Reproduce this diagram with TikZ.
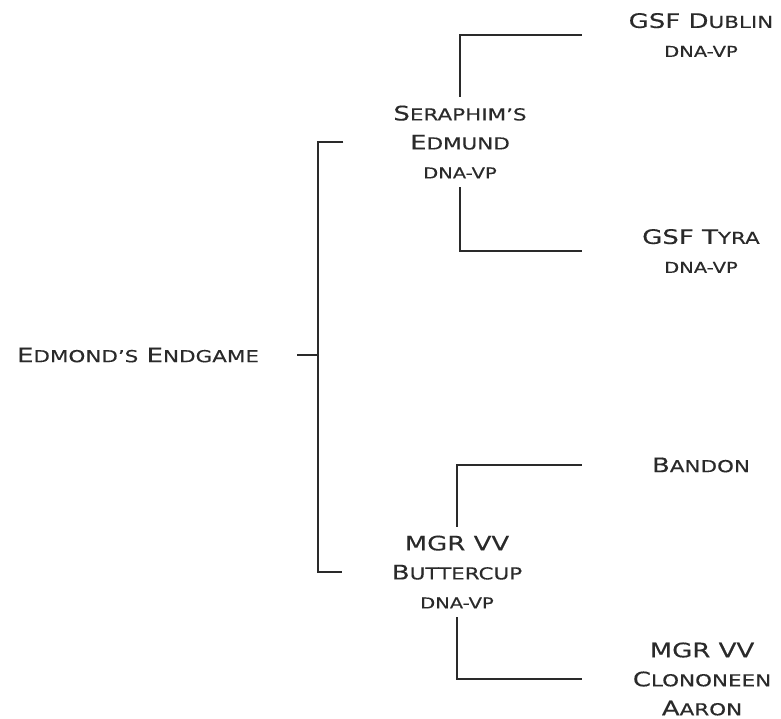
\documentclass[tikz,border=0pt]{standalone}
\usepackage{fontspec}
\setmainfont[FakeStretch=1.3, FakeBold=0.3]{DejaVu Sans}
\newcommand{\sm}[1]{{\fontsize{16.5}{29}\selectfont #1}}
\newcommand{\dna}{{\fontsize{15}{29}\selectfont DNA-VP}}
\definecolor{ink}{HTML}{2A2A2A}

\begin{document}
\begin{tikzpicture}[x=1pt, y=-1pt,
    dog/.style = {align=center, text=ink, inner sep=0pt, outer ysep=9pt,
                  font=\fontsize{20}{29}\selectfont},
    link/.style = {draw=ink, line width=1.6pt}]
    \useasboundingbox (0,0) rectangle (781,719);

    \node[dog] (root) at (138,355) {E\sm{DMOND'S} E\sm{NDGAME}};

    \node[dog] (sera) at (460,142) {S\sm{ERAPHIM'S}\\E\sm{DMUND}\\\dna};
    \node[dog] (cup) at (457,572) {MGR VV\\B\sm{UTTERCUP}\\\dna};

    \node[dog] (dublin) at (701,35) {GSF D\sm{UBLIN}\\\dna};
    \node[dog] (tyra) at (701,251) {GSF T\sm{YRA}\\\dna};
    \node[dog] (bandon) at (701,465) {B\sm{ANDON}};
    \node[dog] (aaron) at (702,679) {MGR VV\\C\sm{LONONEEN}\\A\sm{ARON}};

    \coordinate (fork) at (318,355);
    \coordinate (tip) at (582,0);

    % sire and dam of the root
    \path[link] ([xshift=38pt]root.east) -- (fork);
    \path[link] ([xshift=-50pt]sera.west) -| (fork) |- ([xshift=-50pt]cup.west);

    % grandparents
    \path[link] (sera.north) |- (dublin.west -| tip);
    \path[link] (sera.south) |- (tyra.west -| tip);
    \path[link] (cup.north) |- (bandon.west -| tip);
    \path[link] (cup.south) |- (aaron.west -| tip);
\end{tikzpicture}
\end{document}
